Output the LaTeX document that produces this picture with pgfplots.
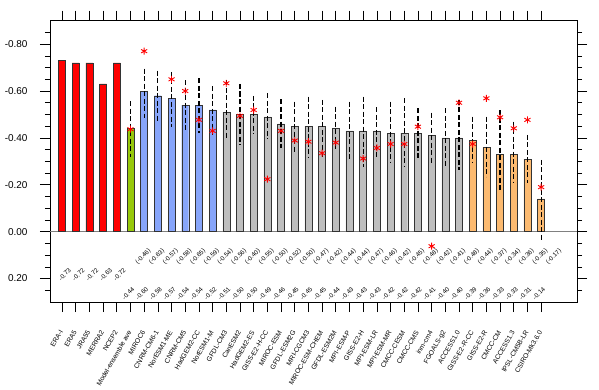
\documentclass[border=0pt]{standalone}
\usepackage{fontspec}
\setmainfont{Liberation Sans}
\usepackage{pgfplots}
\pgfplotsset{compat=1.18}
\definecolor{cRed}{RGB}{255,0,0}
\definecolor{cGreen}{RGB}{150,200,10}
\definecolor{cBlue}{RGB}{135,165,250}
\definecolor{cGrey}{RGB}{190,190,190}
\definecolor{cOrange}{RGB}{252,186,112}
\tikzset{vl/.style={rotate=45,anchor=center,inner sep=0pt,font=\fontsize{6.3}{7}\selectfont}}
\newcommand{\rl}[2]{\node[vl,xshift=4bp] at (axis cs:#1,0.195) {#2};}
\newcommand{\ml}[3]{\node[vl,xshift=-3bp] at (axis cs:#1,0.255) {#2};\node[vl,xshift=18bp] at (axis cs:#1,0.16) {(#3)};}
\begin{document}
\begin{tikzpicture}
\useasboundingbox (-50bp,-88bp) rectangle (549bp,302bp);
\begin{axis}[
  at={(0,0)}, anchor=south west,
  scale only axis, width=527bp, height=281.3bp,
  xmin=-0.877, xmax=37.62,
  ymin=-0.9, ymax=0.3, y dir=reverse,
  xtick={0,...,35},
  xticklabels={ERA-I,ERA5,JRA55,MERRA2,NCEP2,Model-ensemble ave,MIROC6,CNRM-CM6-1,NorESM1-ME,CNRM-CM5,HadGEM2-CC,NorESM1-M,GFDL-CM3,CanESM2,HadGEM2-ES,GISS-E2-H-CC,MIROC-ESM,GFDL-ESM2G,MRI-CGCM3,MIROC-ESM-CHEM,GFDL-ESM2M,MPI-ESM-P,GISS-E2-H,MPI-ESM-LR,MPI-ESM-MR,CMCC-CESM,CMCC-CMS,inm-cm4,FGOALS-g2,ACCESS1.0,GISS-E2-R-CC,GISS-E2-R,CMCC-CM,ACCESS1.3,IPSL-CM5B-LR,CSIRO-Mk3.6.0},
  xticklabel style={yshift=-16bp, xshift=1bp, rotate=60, anchor=east, font=\fontsize{6.8}{7.5}\selectfont},
  ytick={-0.8,-0.6,-0.4,-0.2,0,0.2},
  yticklabels={-0.80,-0.60,-0.40,-0.20,0.00,0.20},
  minor ytick={-0.85,-0.75,-0.70,-0.65,-0.55,-0.50,-0.45,-0.35,-0.30,-0.25,-0.15,-0.10,-0.05,0.05,0.10,0.15,0.25},
  yticklabel style={font=\fontsize{10}{12}\selectfont, xshift=-9bp},
  tick align=outside,
  major tick length=10bp, minor tick length=5bp,
  tick style={black, line width=0.6pt},
  axis line style={line width=0.8pt},
  extra y ticks={0}, extra y tick labels={},
  extra y tick style={grid=major, major grid style={gray, line width=0.8pt}, major tick length=0pt},
  clip=false,
]
\addplot[ybar, bar width=7bp, bar shift=0pt, fill=cRed, draw=black!80, line width=0.4pt] coordinates {(0,-0.73) (1,-0.72) (2,-0.72) (3,-0.63) (4,-0.72)};
\addplot[ybar, bar width=7bp, bar shift=0pt, fill=cGreen, draw=black!80, line width=0.4pt] coordinates {(5,-0.44)};
\addplot[ybar, bar width=7bp, bar shift=0pt, fill=cBlue, draw=black!80, line width=0.4pt] coordinates {(6,-0.60) (7,-0.58) (8,-0.57) (9,-0.54) (10,-0.54) (11,-0.52)};
\addplot[ybar, bar width=7bp, bar shift=0pt, fill=cGrey, draw=black!80, line width=0.4pt] coordinates {(12,-0.51) (13,-0.50) (14,-0.50) (15,-0.49) (16,-0.46) (17,-0.45) (18,-0.45) (19,-0.45) (20,-0.44) (21,-0.43) (22,-0.43) (23,-0.43) (24,-0.42) (25,-0.42) (26,-0.42) (27,-0.41) (28,-0.40) (29,-0.40)};
\addplot[ybar, bar width=7bp, bar shift=0pt, fill=cOrange, draw=black!80, line width=0.4pt] coordinates {(30,-0.39) (31,-0.36) (32,-0.33) (33,-0.33) (34,-0.31) (35,-0.14)};
\addplot[black, line width=1.2bp, dash pattern=on 5bp off 2.5bp, unbounded coords=jump, mark=none] coordinates {
(5,-0.557) (5,-0.32) (5,nan)
(6,-0.696) (6,-0.484) (6,nan)
(7,-0.687) (7,-0.47) (7,nan)
(8,-0.682) (8,-0.448) (8,nan)
(9,-0.647) (9,-0.431) (9,nan)
(10,-0.654) (10,-0.423) (10,nan)
(11,-0.621) (11,-0.413) (11,nan)
(12,-0.647) (12,-0.399) (12,nan)
(13,-0.63) (13,-0.37) (13,nan)
(14,-0.579) (14,-0.417) (14,nan)
(15,-0.59) (15,-0.394) (15,nan)
(16,-0.565) (16,-0.356) (16,nan)
(17,-0.555) (17,-0.338) (17,nan)
(18,-0.576) (18,-0.318) (18,nan)
(19,-0.562) (19,-0.318) (19,nan)
(20,-0.533) (20,-0.346) (20,nan)
(21,-0.555) (21,-0.306) (21,nan)
(22,-0.576) (22,-0.275) (22,nan)
(23,-0.53) (23,-0.318) (23,nan)
(24,-0.555) (24,-0.296) (24,nan)
(25,-0.569) (25,-0.278) (25,nan)
(26,-0.526) (26,-0.313) (26,nan)
(27,-0.508) (27,-0.295) (27,nan)
(28,-0.526) (28,-0.278) (28,nan)
(29,-0.562) (29,-0.264) (29,nan)
(30,-0.491) (30,-0.295) (30,nan)
(31,-0.491) (31,-0.235) (31,nan)
(32,-0.519) (32,-0.172) (32,nan)
(33,-0.47) (33,-0.21) (33,nan)
(34,-0.413) (34,-0.207) (34,nan)
(35,-0.306) (35,0.041)
};
\addplot[only marks, mark=asterisk, red, mark size=3.5bp, line width=0.9pt] coordinates {
(5,-0.437) (6,-0.77) (8,-0.65) (9,-0.60) (10,-0.477) (11,-0.43) (12,-0.633) (13,-0.494) (14,-0.519) (15,-0.224) (16,-0.43) (17,-0.389) (18,-0.384) (19,-0.335) (20,-0.38) (22,-0.312) (23,-0.357) (24,-0.374) (25,-0.374) (26,-0.448) (27,0.062) (29,-0.55) (30,-0.374) (31,-0.569) (32,-0.488) (33,-0.441) (34,-0.477) (35,-0.19)};
\rl{0}{-0.73}\rl{1}{-0.72}\rl{2}{-0.72}\rl{3}{-0.63}\rl{4}{-0.72}
\ml{5}{-0.44}{-0.46}\ml{6}{-0.60}{-0.63}\ml{7}{-0.58}{-0.57}\ml{8}{-0.57}{-0.58}\ml{9}{-0.54}{-0.65}
\ml{10}{-0.54}{-0.59}\ml{11}{-0.52}{-0.54}\ml{12}{-0.51}{-0.56}\ml{13}{-0.50}{-0.40}\ml{14}{-0.50}{-0.55}
\ml{15}{-0.49}{-0.50}\ml{16}{-0.46}{-0.52}\ml{17}{-0.45}{-0.50}\ml{18}{-0.45}{-0.47}\ml{19}{-0.45}{-0.42}
\ml{20}{-0.44}{-0.44}\ml{21}{-0.43}{-0.44}\ml{22}{-0.43}{-0.47}\ml{23}{-0.43}{-0.46}\ml{24}{-0.42}{-0.42}
\ml{25}{-0.42}{-0.45}\ml{26}{-0.42}{-0.48}\ml{27}{-0.41}{-0.42}\ml{28}{-0.40}{-0.41}\ml{29}{-0.40}{-0.48}
\ml{30}{-0.39}{-0.44}\ml{31}{-0.36}{-0.37}\ml{32}{-0.33}{-0.34}\ml{33}{-0.33}{-0.36}\ml{34}{-0.31}{-0.35}
\ml{35}{-0.14}{-0.17}
\end{axis}
\end{tikzpicture}
\end{document}
